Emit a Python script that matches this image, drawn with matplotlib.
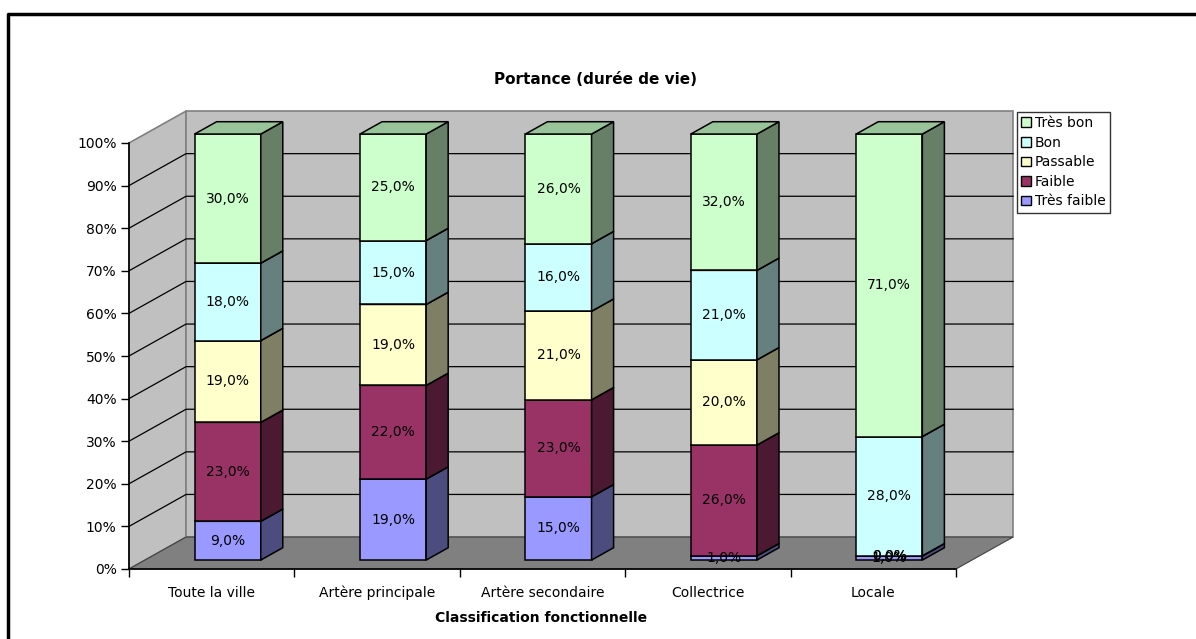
import matplotlib.pyplot as plt
from matplotlib.patches import Polygon, Patch
from matplotlib.lines import Line2D

categories = ['Toute la ville', 'Artère principale', 'Artère secondaire', 'Collectrice', 'Locale']
series_names = ['Très faible', 'Faible', 'Passable', 'Bon', 'Très bon']
tres_faible = [9, 19, 15, 1, 1]
faible = [23, 22, 23, 26, 0]
passable = [19, 19, 21, 20, 0]
bon = [18, 15, 16, 21, 28]
tres_bon = [30, 25, 26, 32, 71]
series = [tres_faible, faible, passable, bon, tres_bon]

front_cols = ['#9999FF', '#993366', '#FFFFCC', '#CCFFFF', '#CCFFCC']
side_cols = ['#4C4C7F', '#4C1933', '#7F7F66', '#667F7F', '#667F66']
top_cols = ['#7373BF', '#73264C', '#BFBF99', '#99BFBF', '#99C499']

# depth of the box in data units, and where the bars sit inside it
DX, DY = 0.345, 7.5
Z0, Z1 = 0.28, 0.666
BAR_W = 0.4


def proj(x, y, z):
    return (x + z * DX, y + z * DY)


fig = plt.figure(figsize=(11.96, 6.39), dpi=100)
W, H = 1196, 639
ax = fig.add_axes([129 / W, (H - 569) / H, (956 - 129) / W, (569 - 143) / H])
ax.set_xlim(0, len(categories))
ax.set_ylim(0, 100)
ax.patch.set_visible(False)
ax.spines[['top', 'right']].set_visible(False)
n = len(categories)

# walls and floor
left_wall = [proj(0, 0, 0), proj(0, 100, 0), proj(0, 100, 1), proj(0, 0, 1)]
back_wall = [proj(0, 0, 1), proj(n, 0, 1), proj(n, 100, 1), proj(0, 100, 1)]
floor = [proj(0, 0, 0), proj(n, 0, 0), proj(n, 0, 1), proj(0, 0, 1)]
ax.add_patch(Polygon(left_wall, closed=True, fc='#C0C0C0', ec='#808080', lw=1.2, clip_on=False, zorder=0.5))
ax.add_patch(Polygon(back_wall, closed=True, fc='#C0C0C0', ec='#808080', lw=1.2, clip_on=False, zorder=0.5))
ax.add_patch(Polygon(floor, closed=True, fc='#808080', ec='#404040', lw=0.8, clip_on=False, zorder=0.6))

for g in range(10, 100, 10):
    a, b, c = proj(0, g, 0), proj(0, g, 1), proj(n, g, 1)
    ax.plot([a[0], b[0], c[0]], [a[1], b[1], c[1]], color='black', lw=0.9, clip_on=False, zorder=0.7)

# stacked 3D bars, normalised to 100 %
for i in range(n):
    vals = [s[i] for s in series]
    total = sum(vals)
    x0 = i + 0.5 - BAR_W / 2
    x1 = i + 0.5 + BAR_W / 2
    base = 0.0
    for k, v in enumerate(vals):
        h = v / total * 100
        y0, y1 = base, base + h
        front = [proj(x0, y0, Z0), proj(x1, y0, Z0), proj(x1, y1, Z0), proj(x0, y1, Z0)]
        side = [proj(x1, y0, Z0), proj(x1, y0, Z1), proj(x1, y1, Z1), proj(x1, y1, Z0)]
        top = [proj(x0, y1, Z0), proj(x1, y1, Z0), proj(x1, y1, Z1), proj(x0, y1, Z1)]
        for poly, col in ((front, front_cols[k]), (side, side_cols[k]), (top, top_cols[k])):
            ax.add_patch(Polygon(poly, closed=True, fc=col, ec='black', lw=1.1,
                                 joinstyle='miter', clip_on=False, zorder=3))
        cx, cy = proj(i + 0.5, (y0 + y1) / 2, Z0)
        ax.text(cx, cy, f'{v:.1f}%'.replace('.', ','), ha='center', va='center',
                fontsize=10, zorder=5, clip_on=False)
        base = y1

# axes, ticks and labels
ax.set_yticks(range(0, 101, 10))
ax.set_yticklabels([f'{t}%' for t in range(0, 101, 10)])
ax.set_xticks(range(n + 1))
ax.set_xticklabels([])
ax.set_xticks([i + 0.5 for i in range(n)], minor=True)
ax.set_xticklabels(categories, minor=True)
ax.tick_params(axis='y', direction='out', length=6, width=1, pad=3, labelsize=10)
ax.tick_params(axis='x', which='major', direction='out', length=6, width=1)
ax.tick_params(axis='x', which='minor', length=0, pad=12, labelsize=10)
for sp in ('left', 'bottom'):
    ax.spines[sp].set_linewidth(1.2)
    ax.spines[sp].set_zorder(2.5)

fig.text(596 / W, 1 - 79 / H, 'Portance (durée de vie)', ha='center', va='center',
         fontsize=11, fontweight='bold')
fig.text(541 / W, 1 - 618 / H, 'Classification fonctionnelle', ha='center', va='center',
         fontsize=10, fontweight='bold')

handles = [Patch(fc=front_cols[k], ec='black', lw=1) for k in range(len(series_names))][::-1]
leg = fig.legend(handles, series_names[::-1], loc='upper left',
                 bbox_to_anchor=(1017 / W, 1 - 112 / H), bbox_transform=fig.transFigure,
                 fontsize=10, frameon=True, fancybox=False, edgecolor='black',
                 handlelength=0.7, handleheight=0.7, handletextpad=0.3,
                 labelspacing=0.4, borderpad=0.3, borderaxespad=0)
leg.get_frame().set_linewidth(1)

# outer frame of the chart area
fig.add_artist(Line2D([8 / W, 8 / W, 1], [0, 1 - 14 / H, 1 - 14 / H],
                      transform=fig.transFigure, color='black', lw=2.5))

fig.savefig('out.png', dpi=100)
